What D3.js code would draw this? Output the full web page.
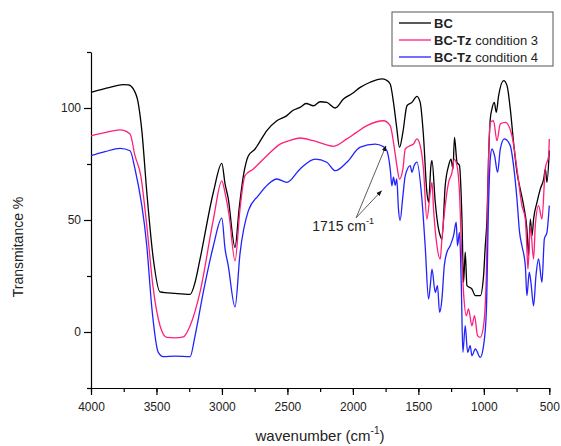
<!DOCTYPE html>
<meta charset="utf-8">
<style>
  body { margin: 0; background: #fff; font-family: "Liberation Sans", Arial, sans-serif; }
  text { fill: #222; }
</style>
<body>
<svg></svg>
<script src="https://cdnjs.cloudflare.com/ajax/libs/d3/7.8.5/d3.min.js"></script>
<script>

// BC (black)
var wnBC = [4000,3855,3755,3715,3677,3641,3612,3574,3524,3473,3358,3243,3205,3167,3065,3001,2976,2953,2900,2869,2836,2798,2747,2722,2657,2581,2504,2456,2403,2357,2301,2250,2199,2135,2072,2005,1944,1868,1778,1746,1715,1690,1664,1644,1618,1587,1549,1511,1486,1461,1435,1422,1404,1396,1371,1346,1333,1320,1295,1269,1251,1236,1224,1205,1186,1167,1155,1142,1129,1091,1065,1027,1002,989,976,964,951,938,920,905,887,849,823,798,773,747,722,696,671,658,645,632,620,594,569,543,530,518,500];
var tBC  = [107,109.2,110.4,110.3,108.5,102.7,90,62.5,32.6,17.9,17.2,16.8,22.2,32.6,62.5,75.3,66,60,37.8,55,69.8,78.7,81.7,83.9,89.9,94.3,96.6,99,100.3,102,101,102.8,102.5,100,104,106.5,109.2,111.5,113,112.5,110.7,102.5,90.6,82.4,89.2,101,102.5,105.2,102.5,87.6,62.4,57.9,74.3,76.5,57.9,46,43,41.5,65.3,74.3,77.2,72.8,86.9,75.8,74.3,50.4,22.2,35.6,20.7,19.2,16.2,16.2,25.1,38.5,50.4,77.2,95,99.6,102.5,98.1,105.5,112.2,110,99.6,84.7,71.3,63.8,56.4,46,34.1,50.4,43,50.4,57.9,63.8,68.3,72.8,66.8,81];

// BC-Tz condition 3 (pink)
var wnC3 = [4000,3893,3778,3702,3664,3620,3574,3526,3473,3421,3358,3295,3243,3167,3065,3001,2976,2945,2900,2862,2824,2760,2657,2556,2480,2403,2301,2148,2046,1975,1893,1766,1715,1690,1664,1644,1618,1600,1562,1537,1511,1486,1461,1435,1409,1396,1384,1358,1333,1320,1295,1269,1243,1226,1205,1186,1167,1155,1134,1117,1091,1071,1048,1027,1002,981,964,951,926,900,874,836,785,747,709,683,671,663,645,620,607,582,556,531,505,500];
var tC3  = [87.6,89,90.2,88.4,78.7,69.8,47.5,20,2.8,-2.4,-2.6,-2.2,2.8,17.9,50.4,67.5,62,52,31.8,55,69.8,72.8,78.7,83.9,85.5,86.6,85.4,82.9,86.2,89,92.1,94.3,92.1,84.7,74.3,68.3,72.8,81.7,83.2,83.9,86.2,83.2,72.8,50.4,62.4,66.8,54.9,38.5,32.6,41.5,56.4,66.8,71.3,77.2,74.3,62.4,31.1,17.7,7.3,10.3,2.8,7.3,-1.6,-2.4,2.8,25.1,77.2,93.6,94.3,85.4,92.9,93.6,87.6,72.8,56.4,50.4,37,28.1,47.5,32.6,47.5,56.4,50.4,72.8,78.7,86.2];

// BC-Tz condition 4 (blue)
var wnC4 = [4000,3893,3778,3702,3664,3574,3534,3486,3447,3358,3243,3205,3142,3065,3001,2976,2953,2900,2862,2798,2722,2647,2581,2504,2403,2288,2199,2135,2046,1944,1830,1769,1740,1715,1702,1690,1677,1665,1652,1640,1618,1600,1562,1549,1532,1511,1473,1448,1422,1409,1396,1371,1354,1338,1320,1302,1282,1257,1231,1211,1201,1186,1172,1160,1142,1124,1104,1091,1065,1027,1002,981,964,951,938,918,895,874,844,798,773,747,727,709,683,671,653,640,620,602,582,556,538,518,500];
var tC4  = [78.7,80.5,82,80.9,72.8,38.5,10,-9.1,-11,-10.8,-11,-1.6,17.9,38.5,50.8,37,30,11.2,35,54.2,60.9,66,68.3,66.8,72.8,77.2,75.8,72,75.8,82.5,83.9,82.8,80.9,72.8,65.3,69.1,65.5,68.3,54.9,49.7,60.8,69.8,74.3,71.3,74.3,75.8,59.4,38.5,14.7,20.7,28.1,17.7,20.7,8.8,14.7,29.6,35.6,38.5,43,49,38.5,44.5,20.7,-9.1,2.8,-9.1,-6.1,-10.6,-7.6,-11.3,-6.1,8.8,56.4,77.2,81.7,78.7,71.3,81.7,86.2,83.2,74.3,59.4,44.5,38.5,29.6,16.2,26.7,22,11.7,25.1,32.6,22.2,41.5,44.5,56.4];

var seriesNames = ["BC", "BC-Tz condition 3", "BC-Tz condition 4"];
var colors = ["#000000", "#ff1f7a", "#2222ff"];

var xTicks = [4000, 3500, 3000, 2500, 2000, 1500, 1000, 500];
var yTicks = [0, 50, 100];

var width = 561, height = 446;

var svg = d3.select("svg").attr("width", width).attr("height", height);

var x = d3.scaleLinear().domain([4000, 500]).range([91, 549.3]);
var y = d3.scaleLinear().domain([-25, 125]).range([388, 52]);

// x axis: major + minor ticks
svg.append("g")
    .attr("transform", "translate(0,388)")
    .call(d3.axisBottom(x).tickValues(d3.range(4000, 499, -250)).tickSize(4).tickFormat(""))
    .call(function (g) { g.select(".domain").remove(); });
var xAxis = svg.append("g")
    .attr("transform", "translate(0,388)")
    .call(d3.axisBottom(x).tickValues(xTicks).tickSize(7).tickSizeOuter(0).tickFormat(d3.format("d")));
xAxis.selectAll("text").attr("font-size", 12).attr("dy", "1.1em").attr("fill", "#222");

// y axis
svg.append("g")
    .attr("transform", "translate(91,0)")
    .call(d3.axisLeft(y).tickValues([-25, 25, 75, 125]).tickSize(4).tickFormat(""))
    .call(function (g) { g.select(".domain").remove(); });
var yAxis = svg.append("g")
    .attr("transform", "translate(91,0)")
    .call(d3.axisLeft(y).tickValues(yTicks).tickSize(7).tickSizeOuter(0));
yAxis.selectAll("text").attr("font-size", 12).attr("x", -10).attr("fill", "#222");

svg.selectAll(".domain, .tick line").attr("stroke", "#000").attr("stroke-width", 1.2);

// spectra
var line = d3.line()
    .curve(d3.curveMonotoneX)
    .x(function (d) { return x(d[0]); })
    .y(function (d) { return y(d[1]); });

var all = [d3.zip(wnBC, tBC), d3.zip(wnC3, tC3), d3.zip(wnC4, tC4)];
svg.selectAll(".spec")
    .data(all)
    .enter().append("path")
    .attr("class", "spec")
    .attr("d", line)
    .attr("fill", "none")
    .attr("stroke", function (d, i) { return colors[i]; })
    .attr("stroke-width", 1.3)
    .attr("stroke-linejoin", "round");

// axis titles
svg.append("text")
    .attr("x", 320).attr("y", 441)
    .attr("text-anchor", "middle")
    .attr("font-size", 15)
    .html('wavenumber (cm<tspan font-size="10" dy="-7">-1</tspan><tspan dy="7">)</tspan>');

svg.append("text")
    .attr("transform", "translate(23,247)rotate(-90)")
    .attr("text-anchor", "middle")
    .attr("font-size", 14)
    .text("Transmitance %");

// annotation for 1715 cm-1
var tail = [1975, 51];
var tips = [[1748, 83], [1782, 63]];
svg.append("defs").append("marker")
    .attr("id", "head")
    .attr("viewBox", "0 0 10 10")
    .attr("refX", 9).attr("refY", 5)
    .attr("markerWidth", 7).attr("markerHeight", 7)
    .attr("orient", "auto")
    .append("path").attr("d", "M0,1L10,5L0,9z").attr("fill", "#111");

svg.selectAll(".arrow")
    .data(tips)
    .enter().append("line")
    .attr("class", "arrow")
    .attr("x1", x(tail[0])).attr("y1", y(tail[1]))
    .attr("x2", function (d) { return x(d[0]); })
    .attr("y2", function (d) { return y(d[1]); })
    .attr("stroke", "#333").attr("stroke-width", 0.8)
    .attr("marker-end", "url(#head)");

svg.append("text")
    .attr("x", x(2310)).attr("y", y(45))
    .attr("font-size", 14)
    .html('1715 cm<tspan font-size="9" dy="-7">-1</tspan>');

// legend
var lg = svg.append("g");
lg.append("rect")
    .attr("x", 392).attr("y", 12).attr("width", 161).attr("height", 54)
    .attr("fill", "#fff").attr("stroke", "#555").attr("stroke-width", 1);
var rows = lg.selectAll(".row")
    .data(seriesNames)
    .enter().append("g")
    .attr("transform", function (d, i) { return "translate(0," + (23 + i * 17) + ")"; });
rows.append("line")
    .attr("x1", 399).attr("x2", 431)
    .attr("stroke", function (d, i) { return colors[i]; })
    .attr("stroke-width", 1.3);
rows.append("text")
    .attr("x", 434).attr("dy", "0.36em")
    .attr("font-size", 13)
    .html(function (d) {
        var parts = d.split(" ");
        return '<tspan font-weight="bold">' + parts[0] + '</tspan>' + (parts.length > 1 ? " " + parts.slice(1).join(" ") : "");
    });

</script>
</body>
